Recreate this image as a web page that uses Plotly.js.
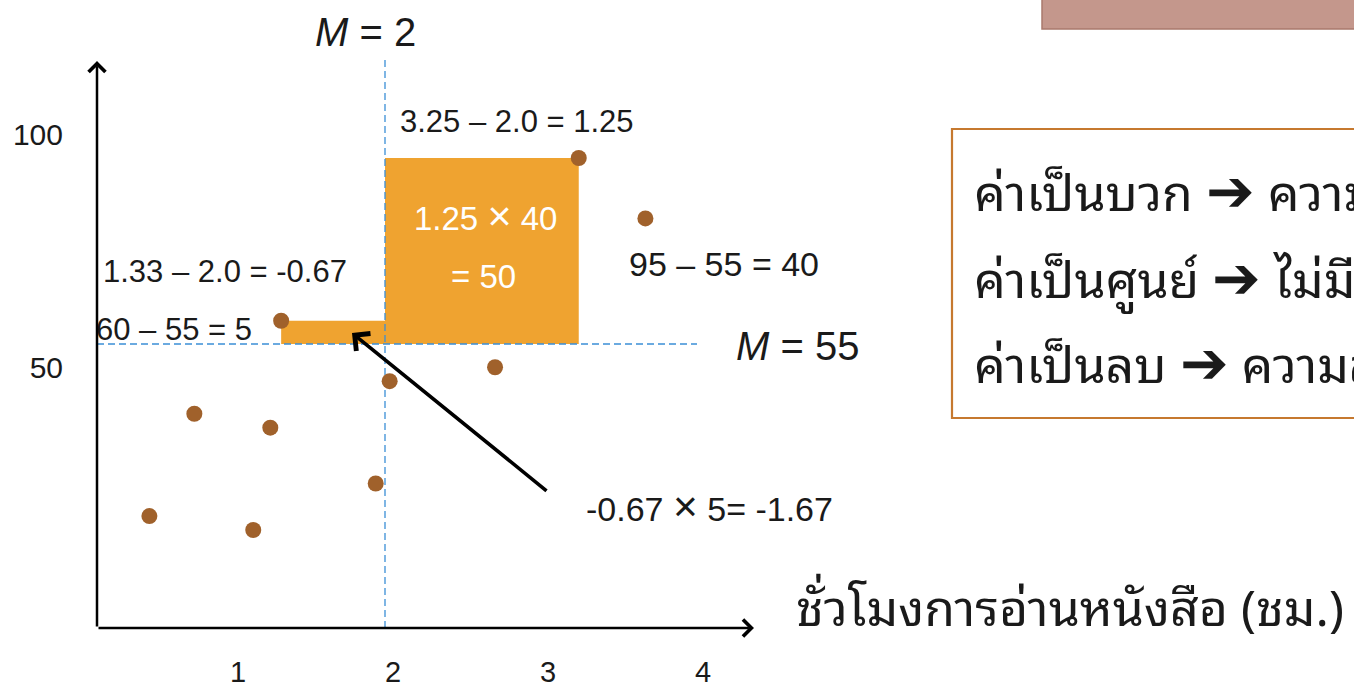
<!DOCTYPE html>
<html>
<head>
<meta charset="utf-8">
<script src="https://cdn.plot.ly/plotly-3.0.1.min.js"></script>
<style>
  html, body { margin: 0; padding: 0; background: #ffffff; }
  #chart { width: 1354px; height: 689px; }
</style>
</head>
<body>
<div id="chart"></div>
<script>
// Reading hours vs. score, with the two deviation-product rectangles
const hours  = [0.48, 0.77, 1.15, 1.26, 1.33, 1.94, 2.03, 2.71, 3.25, 3.68];
const scores = [18, 40, 15, 37, 60, 25, 47, 50, 95, 82];
const meanHours = 2;
const meanScore = 55;
const xTickVals = [1, 2, 3, 4];
const yTickVals = [50, 100];
const xTitle = 'ชั่วโมงการอ่านหนังสือ (ชม.)';
const ruleLines = [
  ['ค่าเป็นบวก', 'ความสัมพันธ์ทางบวก'],
  ['ค่าเป็นศูนย์', 'ไม่มีความสัมพันธ์'],
  ['ค่าเป็นลบ', 'ความสัมพันธ์ทางลบ']
];

// indices of the two highlighted points
const posIdx = 8;   // (3.25, 95)
const negIdx = 4;   // (1.33, 60)

// page geometry
const W = 1354, H = 689;
const px = v => v / W;          // pixel column -> paper x
const py = v => 1 - v / H;      // pixel row -> paper y

// linear scales: pixels per unit and the pixel where the means sit
const xUnit = 155, xMeanPx = 385;
const yUnit = 4.65, yMeanPx = 344;
const xRange = [meanHours - xMeanPx / xUnit, meanHours + (W - xMeanPx) / xUnit];
const yRange = [meanScore - (H - yMeanPx) / yUnit, meanScore + yMeanPx / yUnit];
const xAt = p => meanHours + (p - xMeanPx) / xUnit;
const yAt = p => meanScore + (yMeanPx - p) / yUnit;

const latin = 'Liberation Sans, Arial, Helvetica, sans-serif';
const thai = 'Noto Sans Thai Looped, Noto Sans Thai, Loma, Garuda, Norasi, Noto Sans, sans-serif';
const ink = '#1a1a1a';
const orange = '#EFA330';
const dashBlue = '#3B8FD6';

const dx = v => (v - meanHours);
const dy = v => (v - meanScore);
const times = '<span style="font-size:1.25em">×</span>';
const arrowGlyph = '<span style="font-size:1.15em">➔</span>';

const txtPosDx = `${hours[posIdx].toFixed(2)} – ${meanHours.toFixed(1)} = ${dx(hours[posIdx]).toFixed(2)}`;
const txtNegDx = `${hours[negIdx].toFixed(2)} – ${meanHours.toFixed(1)} = ${dx(hours[negIdx]).toFixed(2)}`;
const txtPosDy = `${scores[posIdx]} – ${meanScore} = ${dy(scores[posIdx])}`;
const txtNegDy = `${scores[negIdx]} – ${meanScore} = ${dy(scores[negIdx])}`;

const points = {
  type: 'scatter',
  mode: 'markers',
  x: hours,
  y: scores,
  marker: { size: 16, color: '#A0612B', line: { width: 0 } },
  hoverinfo: 'x+y'
};

const shapes = [
  // deviation-product rectangles
  { type: 'rect', xref: 'x', yref: 'y', layer: 'below',
    x0: meanHours, x1: hours[posIdx], y0: meanScore, y1: scores[posIdx],
    fillcolor: orange, line: { width: 0 } },
  { type: 'rect', xref: 'x', yref: 'y', layer: 'below',
    x0: hours[negIdx], x1: meanHours, y0: meanScore, y1: scores[negIdx],
    fillcolor: orange, line: { width: 0 } },
  // mean lines
  { type: 'line', xref: 'x', yref: 'y', layer: 'below',
    x0: meanHours, x1: meanHours, y0: yAt(628), y1: yAt(60),
    line: { color: dashBlue, width: 1.3, dash: '7px,4px' } },
  { type: 'line', xref: 'x', yref: 'y', layer: 'below',
    x0: xAt(97), x1: xAt(697), y0: meanScore, y1: meanScore,
    line: { color: dashBlue, width: 1.3, dash: '7px,4px' } },
  // rule box on the right
  { type: 'rect', xref: 'paper', yref: 'paper',
    x0: px(952), x1: px(1400), y0: py(418), y1: py(129),
    fillcolor: 'rgba(0,0,0,0)', line: { color: '#C6792F', width: 2.2 } },
  // header bar at the top right
  { type: 'rect', xref: 'paper', yref: 'paper',
    x0: px(1042), x1: px(1400), y0: py(29), y1: py(-10),
    fillcolor: '#C4978C', line: { color: '#A97A6C', width: 1.5 } }
];

const note = (text, x, y, size, extra) => Object.assign({
  text: text, xref: 'paper', yref: 'paper', x: px(x), y: py(y),
  xanchor: 'center', yanchor: 'middle', showarrow: false,
  font: { family: latin, size: size, color: ink }
}, extra || {});

const white = size => ({ font: { family: latin, size: size, color: '#ffffff' } });
const thaiFont = (size, anchor) => ({ xanchor: anchor, font: { family: thai, size: size, color: ink } });

const annotations = [
  note('<i>M</i> = ' + meanHours, 366, 32, 40),
  note('<i>M</i> = ' + meanScore, 797, 346, 40),
  note(txtPosDx, 517, 121, 31),
  note(txtNegDx, 225, 271, 31),
  note(txtPosDy, 724, 264, 34),
  note(txtNegDy, 174, 330, 31),
  note(`${dx(hours[posIdx]).toFixed(2)} ${times} ${dy(scores[posIdx])}`, 485, 216, 33, white(33)),
  note(`= ${dx(hours[posIdx]) * dy(scores[posIdx])}`, 483, 276, 33, white(33)),
  note(`-0.67 ${times} 5= -1.67`, 709, 507, 34),
  note(xTitle, 1070, 603, 50, thaiFont(50, 'center')),
  // rule text
  note(`${ruleLines[0][0]} ${arrowGlyph} ${ruleLines[0][1]}`, 972, 185, 50, thaiFont(50, 'left')),
  note(`${ruleLines[1][0]} ${arrowGlyph} ${ruleLines[1][1]}`, 972, 272, 50, thaiFont(50, 'left')),
  note(`${ruleLines[2][0]} ${arrowGlyph} ${ruleLines[2][1]}`, 972, 357, 50, thaiFont(50, 'left')),
  // axis arrows
  { text: '', xref: 'paper', yref: 'paper', x: px(97), y: py(61), ax: 0, ay: 567,
    showarrow: true, arrowhead: 4, arrowsize: 1.3, arrowwidth: 2.5, arrowcolor: '#000' },
  { text: '', xref: 'paper', yref: 'paper', x: px(754), y: py(628), ax: -657, ay: 0,
    showarrow: true, arrowhead: 4, arrowsize: 1.3, arrowwidth: 2.5, arrowcolor: '#000' },
  // pointer to the negative rectangle
  { text: '', xref: 'x', yref: 'y', x: xAt(352), y: yAt(333),
    axref: 'x', ayref: 'y', ax: xAt(548), ay: yAt(492),
    showarrow: true, arrowhead: 4, arrowsize: 1.2, arrowwidth: 3.6, arrowcolor: '#000' }
];

const layout = {
  width: W,
  height: H,
  margin: { l: 0, r: 0, t: 0, b: 0 },
  paper_bgcolor: '#ffffff',
  plot_bgcolor: '#ffffff',
  showlegend: false,
  xaxis: {
    range: xRange, domain: [0, 1], anchor: 'free', position: py(628),
    showgrid: false, zeroline: false, showline: false, ticks: '',
    tickmode: 'array', tickvals: xTickVals,
    ticklabelstandoff: 24, ticklabelshift: 8,
    tickfont: { family: latin, size: 29, color: ink }
  },
  yaxis: {
    range: yRange, domain: [0, 1], anchor: 'free', position: px(97),
    showgrid: false, zeroline: false, showline: false, ticks: '',
    tickmode: 'array', tickvals: yTickVals,
    ticklabelstandoff: 34,
    tickfont: { family: latin, size: 30, color: ink }
  },
  shapes: shapes,
  annotations: annotations
};

Plotly.newPlot('chart', [points], layout, { displayModeBar: false, staticPlot: true });
</script>
</body>
</html>
